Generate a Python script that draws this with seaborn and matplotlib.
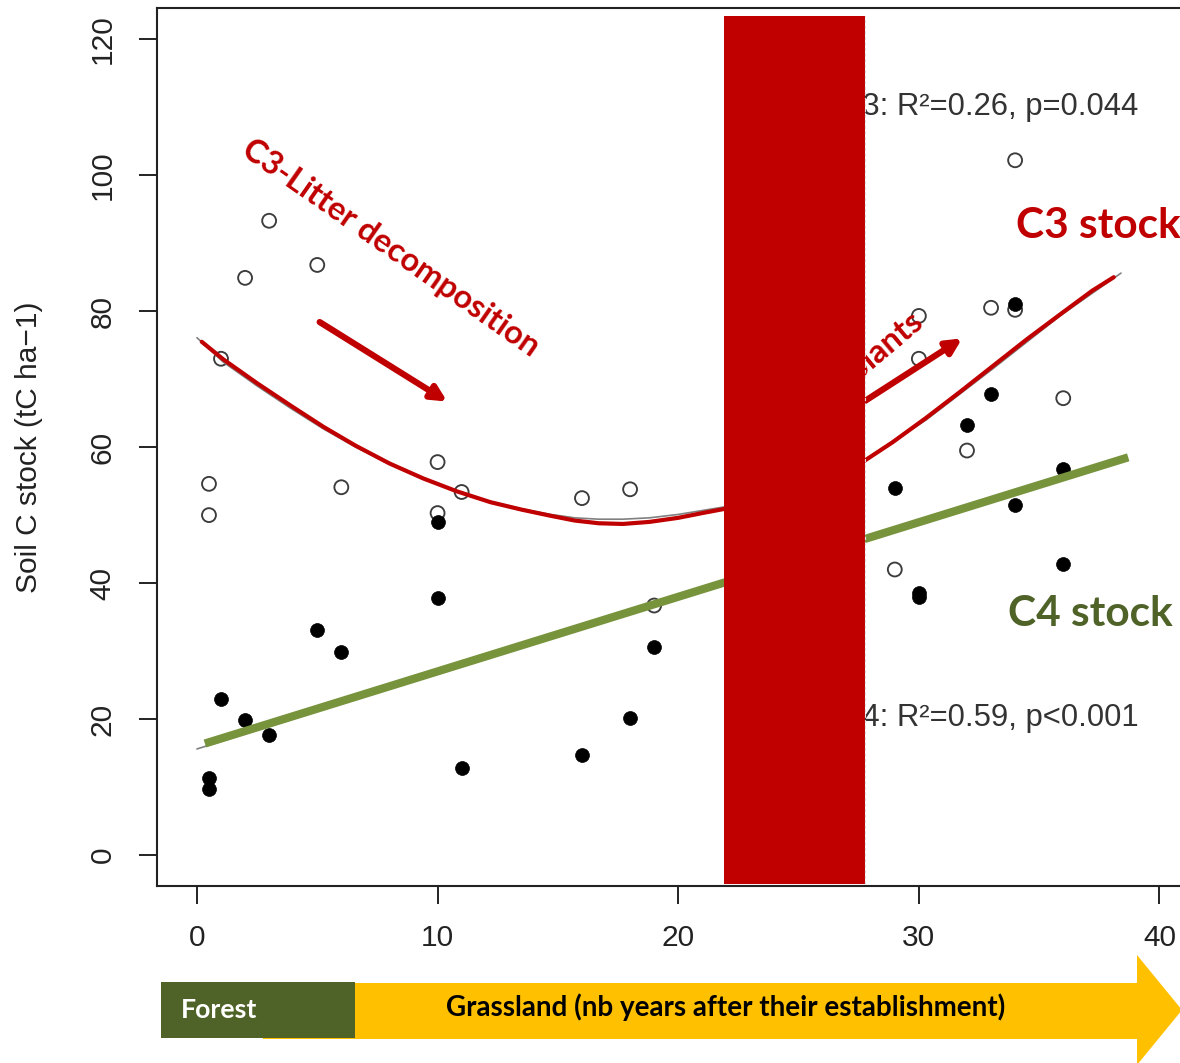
import numpy as np
import pandas as pd
import matplotlib
matplotlib.use("Agg")
import matplotlib.pyplot as plt
import seaborn as sns
from matplotlib.patches import Rectangle, Polygon

# C3 (open circles) and C4 (filled) soil carbon stocks
c3_years = [0.5, 0.5, 1, 2, 3, 5, 6, 10, 10, 11, 16, 18, 19, 29, 30, 30, 32, 33, 34, 34, 36]
c3_stock = [54.6, 50.0, 73.0, 84.9, 93.3, 86.8, 54.1, 57.8, 50.3, 53.4, 52.5, 53.8, 36.7,
            42.0, 79.3, 73.0, 59.5, 80.5, 102.2, 80.2, 67.2]
c4_years = [0.5, 0.5, 1, 2, 3, 5, 6, 10, 10, 11, 16, 18, 19, 29, 30, 30, 32, 33, 34, 34, 36, 36]
c4_stock = [11.4, 9.7, 23.0, 19.8, 17.7, 33.1, 29.8, 49.0, 37.8, 12.8, 14.7, 20.2, 30.6,
            54.0, 38.6, 38.0, 63.2, 67.8, 81.0, 51.5, 56.8, 42.8]

# fitted curves as drawn on the figure
c3_fit_x = [0.2, 1.1, 2.5, 3.9, 5.25, 6.6, 8.0, 9.4, 10.8, 12.2, 13.5, 14.7, 15.7, 16.7,
            17.7, 18.8, 20.0, 21.0, 21.9, 23.5, 25.0, 26.5, 27.7, 28.9, 30.3, 31.7, 33.1,
            34.5, 35.9, 37.2, 38.1]
c3_fit_y = [75.5, 72.9, 69.4, 66.1, 63.0, 60.2, 57.6, 55.4, 53.5, 51.9, 50.8, 49.9, 49.2,
            48.8, 48.7, 49.0, 49.6, 50.3, 50.9, 52.3, 54.0, 56.0, 57.9, 60.7, 64.3, 68.1,
            72.0, 75.9, 79.6, 83.0, 85.0]
c3_r_x = [0.0, 1.1, 2.5, 3.9, 5.25, 6.6, 8.0, 9.4, 10.8, 12.2, 13.5, 14.7, 15.7, 16.7,
          17.7, 18.8, 20.0, 21.9, 27.7, 30.3, 33.1, 35.9, 38.4]
c3_r_y = [76.1, 72.5, 69.0, 65.7, 62.7, 60.0, 57.5, 55.3, 53.5, 52.0, 50.9, 50.1, 49.6,
          49.4, 49.4, 49.6, 50.1, 51.2, 58.0, 64.0, 71.6, 79.4, 85.6]
c4_fit_x = [0.33, 38.7]
c4_fit_y = [16.4, 58.5]
c4_r_x = [0.0, 38.6]
c4_r_y = [15.6, 58.3]

# hidden period band
band_x = [21.9, 27.75]
band_y = [-4.26, 123.4]

red = "#C00000"
olive = "#77933C"
dark_olive = "#4F6228"
yellow = "#FFC000"

sns.set_style("ticks")
plt.rcParams["font.family"] = ["Liberation Sans", "DejaVu Sans"]

W, H = 1180, 1063
fig = plt.figure(figsize=(W / 100, H / 100), dpi=100)
ax = fig.add_axes([157 / W, (H - 886) / H, (1198 - 157) / W, (886 - 8) / H])

df3 = pd.DataFrame({"years": c3_years, "stock": c3_stock})
df4 = pd.DataFrame({"years": c4_years, "stock": c4_stock})

sns.scatterplot(data=df3, x="years", y="stock", ax=ax, marker="o", s=100,
                facecolor="none", edgecolor="#3c3c3c", linewidth=1.35, zorder=3)
sns.scatterplot(data=df4, x="years", y="stock", ax=ax, marker="o", s=100,
                color="black", edgecolor="black", linewidth=0.5, zorder=3)

sns.lineplot(x=c3_r_x, y=c3_r_y, ax=ax, color="#808080", lw=1.2, sort=False, zorder=4)
sns.lineplot(x=c4_r_x, y=c4_r_y, ax=ax, color="#808080", lw=1.2, sort=False, zorder=4)
sns.lineplot(x=c3_fit_x, y=c3_fit_y, ax=ax, color=red, lw=3.0, sort=False, zorder=5,
             solid_joinstyle="round")
sns.lineplot(x=c4_fit_x, y=c4_fit_y, ax=ax, color=olive, lw=5.9, sort=False, zorder=5,
             solid_capstyle="butt")

# arrows
ax.annotate("", xy=(10.4, 66.7), xytext=(5.1, 78.4),
            arrowprops=dict(arrowstyle="-|>,head_length=0.9,head_width=0.45",
                            color=red, lw=4.5, shrinkA=0, shrinkB=0), zorder=6)
ax.annotate("", xy=(31.8, 76.0), xytext=(25.0, 60.5),
            arrowprops=dict(arrowstyle="-|>,head_length=0.9,head_width=0.45",
                            color=red, lw=4.5, shrinkA=0, shrinkB=0), zorder=6)

bold = ["Lato", "DejaVu Sans"]
ax.text(8.05, 89.3, "C3-Litter decomposition", color=red, fontsize=23.5, fontweight="bold",
        family=bold, rotation=-35, ha="center", va="center", rotation_mode="anchor", zorder=6)
ax.text(30.0, 78.9, "C4 plants", color=red, fontsize=23.5, fontweight="bold",
        family=bold, rotation=40, ha="right", va="center", rotation_mode="anchor", zorder=6)

ax.text(39.12, 110.0, "C3: R²=0.26, p=0.044", fontsize=22.3, color="#333333",
        ha="right", va="center", zorder=6)
ax.text(39.12, 20.1, "C4: R²=0.59, p<0.001", fontsize=22.3, color="#333333",
        ha="right", va="center", zorder=6)
ax.text(34.05, 92.6, "C3 stock", color=red, fontsize=30.5, fontweight="bold",
        family=bold, ha="left", va="center", zorder=6)
ax.text(33.72, 35.4, "C4 stock", color=dark_olive, fontsize=30.5, fontweight="bold",
        family=bold, ha="left", va="center", zorder=6)

ax.add_patch(Rectangle((band_x[0], band_y[0]), band_x[1] - band_x[0], band_y[1] - band_y[0],
                       facecolor=red, edgecolor="none", zorder=8))
ax.plot([band_x[1], band_x[1]], band_y, color="#e0e0e0", lw=0.8, ls=(0, (3, 2)), zorder=9)

ax.set_xlim(-1.66, 41.6)
ax.set_ylim(-4.56, 124.6)
ax.set_xticks([0, 10, 20, 30, 40])
ax.set_yticks([0, 20, 40, 60, 80, 100, 120])
ax.set_xlabel("")
ax.set_ylabel("Soil C stock (tC ha\u22121)", fontsize=21.5, color="#222222", labelpad=33)
ax.tick_params(axis="both", direction="out", length=13, width=1.4, colors="#222222",
               labelsize=21.5)
ax.tick_params(axis="x", pad=14)
ax.tick_params(axis="y", pad=16)
for lab in ax.get_yticklabels():
    lab.set_rotation(90)
    lab.set_va("center")
for side in ["left", "bottom", "top", "right"]:
    ax.spines[side].set_visible(True)
    ax.spines[side].set_linewidth(1.5)
    ax.spines[side].set_color("#222222")

# bottom timeline banner, in pixel coordinates
ov = fig.add_axes([0, 0, 1, 1], facecolor="none")
ov.set_xlim(0, W)
ov.set_ylim(H, 0)
ov.axis("off")
ov.add_patch(Polygon([(263, 983), (1137, 983), (1137, 955), (1182, 1010), (1137, 1065),
                      (1137, 1039), (263, 1039)], closed=True, facecolor=yellow,
                     edgecolor="none"))
ov.add_patch(Rectangle((161, 982), 194, 56, facecolor=dark_olive, edgecolor="none"))
ov.text(181, 1010, "Forest", color="white", fontsize=19.3, fontweight="bold", family=bold,
        ha="left", va="center")
ov.text(726, 1007, "Grassland (nb years after their establishment)", color="black",
        fontsize=20, fontweight="bold", family=bold, ha="center", va="center")

fig.savefig("out.png", dpi=100)
